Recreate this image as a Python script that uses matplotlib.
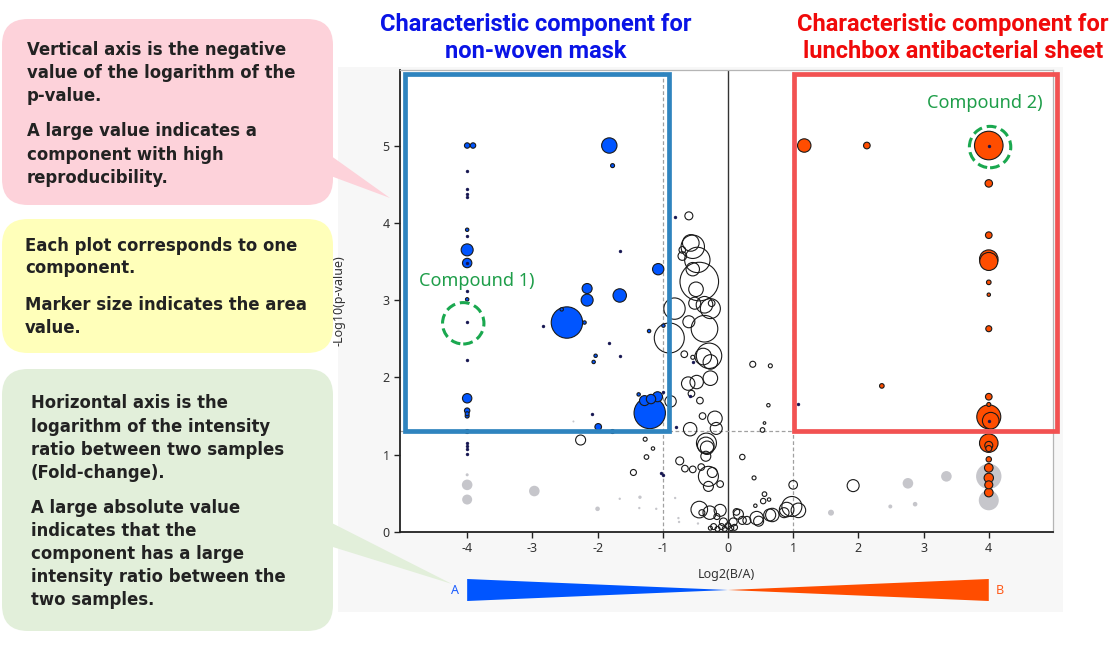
import matplotlib
matplotlib.use("Agg")
import matplotlib.pyplot as plt
from matplotlib.patches import FancyBboxPatch, Polygon, Rectangle
from matplotlib.transforms import blended_transform_factory
import numpy as np

plt.rcParams['axes.unicode_minus'] = False

# ---------------- data ----------------
# significant for A (blue): x = log2(B/A), y = -log10(p), area value
blue_x = [-4.00, -3.91, -4.00, -4.00, -4.00, -4.00, -4.00, -4.00, -4.00, -4.00, -4.00,
          -1.82, -1.77, -1.07, -2.16, -2.16, -1.66, -2.47, -2.20, -1.21, -0.99, -2.03,
          -2.06, -1.20, -1.28, -1.18, -1.08, -1.37, -1.99, -1.77, -2.55]
blue_y = [5.00, 5.00, 3.91, 3.65, 3.48, 3.01, 1.73, 1.57, 1.53, 1.50, 1.30,
          5.00, 4.74, 3.40, 3.15, 3.00, 3.06, 2.71, 2.71, 2.60, 2.67, 2.28,
          2.20, 1.54, 1.70, 1.72, 1.75, 1.78, 1.36, 1.30, 2.88]
blue_area = [7.3, 7.3, 2.9, 36, 22, 2.9, 22, 7.3, 4, 4, 4,
             59, 4, 32, 25, 36, 45, 246, 2.9, 2.9, 2.9, 2.9,
             2.9, 246, 25, 22, 25, 2.9, 11, 4, 2.9]

# significant for B (orange)
orange_x = [1.17, 2.13, 4.00, 4.00, 4.00, 4.00, 4.00, 4.00, 4.00, 4.00, 2.36, 4.00,
            4.00, 4.00, 4.03, 4.00, 4.00, 4.00, 4.00, 4.00, 4.00, 4.00, 4.00]
orange_y = [5.00, 5.00, 5.00, 4.51, 3.84, 3.53, 3.50, 3.23, 3.07, 2.63, 1.89, 1.75,
            1.65, 1.49, 1.44, 1.15, 1.12, 1.08, 0.94, 0.83, 0.70, 0.61, 0.51]
orange_area = [45, 11, 204, 14, 11, 86, 81, 5.3, 2.9, 9, 5.3, 11,
               4, 144, 69, 86, 16, 9, 7.3, 18.5, 22, 16, 18.5]

# not significant, low p (grey)
grey_x = [-4.00, -4.00, -4.00, -2.97, -2.00, -1.66, -1.35, -1.36, -1.10, -0.75, -0.46,
          -2.37, -0.81, -0.76, 4.00, 4.00, 2.76, 3.35, 2.87, 2.49, 1.58]
grey_y = [0.74, 0.61, 0.42, 0.53, 0.30, 0.43, 0.45, 0.31, 0.30, 0.13, 0.11,
          1.43, 0.44, 0.18, 0.72, 0.41, 0.63, 0.72, 0.36, 0.33, 0.25]
grey_area = [2.3, 28, 25, 28, 5.3, 1.4, 2.9, 1.4, 1.4, 1.4, 1.4,
             1.0, 1.4, 1.4, 161, 100, 28, 28, 5.3, 4, 9]

# not significant, small fold change (open circles)
white_x = [-2.26, -1.27, -1.15, -1.25, -1.45, -0.60,
           -0.54, -0.57, -0.70, -0.70, -0.47, -0.54, -0.44, -0.49,
           -0.82, -0.51, -0.36, -0.27, -0.25, -0.60, -0.36, -0.90,
           -0.67, -0.29, -0.27, -0.54, -0.38,
           -0.61, -0.48, -0.27, -0.56, -0.43, -0.88,
           -0.58, -0.39, -0.20, -0.18,
           -0.34, -0.32, -0.33, -0.34, -0.74, -0.66, -0.54, -0.41, -0.30, -0.24, -0.12, -0.30,
           -0.44, -0.28, -0.12, -0.17, -0.40,
           -0.22, -0.16, -0.10, -0.05, 0.00, 0.05, -0.27, 0.10, -0.07, 0.13, 0.08, 0.16,
           0.22, 0.29, 0.44, 0.47, 0.64, 0.68, 0.86, 0.90, 0.98, 1.08, 1.00, 1.92,
           0.56, 0.63, 0.54, 0.42,
           0.22, 0.40, 0.38, 0.65, 0.62, 0.56, 0.53]
white_y = [1.19, 1.20, 1.08, 0.97, 0.77, 4.09,
           3.69, 3.74, 3.65, 3.57, 3.52, 3.40, 3.24, 3.14,
           2.89, 2.96, 2.94, 2.89, 2.96, 2.72, 2.63, 2.51,
           2.30, 2.28, 2.20, 2.26, 2.27,
           1.92, 1.94, 1.99, 1.79, 1.70, 1.69,
           1.33, 1.50, 1.47, 1.34,
           1.12, 1.09, 1.15, 0.98, 0.92, 0.82, 0.81, 0.84, 0.72, 0.77, 0.62, 0.59,
           0.29, 0.25, 0.28, 0.20, 0.25,
           0.07, 0.04, 0.07, 0.04, 0.08, 0.05, 0.05, 0.06, 0.13, 0.26, 0.13, 0.23,
           0.15, 0.15, 0.18, 0.14, 0.22, 0.22, 0.25, 0.29, 0.33, 0.28, 0.61, 0.60,
           0.49, 0.42, 0.40, 0.34,
           0.97, 0.70, 2.17, 2.15, 1.64, 1.41, 1.32]
white_area = [25, 4, 2.9, 5.3, 9, 16,
              137, 69, 11, 18.5, 161, 45, 372, 53,
              114, 36, 69, 100, 11, 36, 177, 225,
              11, 161, 53, 4, 69,
              45, 45, 53, 11, 11, 32,
              45, 11, 53, 36,
              69, 45, 100, 25, 16, 11, 11, 11, 100, 25, 11, 25,
              69, 45, 36, 9, 9,
              9, 6.3, 9, 6.3, 9, 6.3, 4, 9, 16, 11, 16, 25,
              16, 16, 45, 25, 36, 45, 25, 53, 100, 53, 18.5, 36,
              5.3, 2.9, 7.3, 2.9,
              7.3, 4, 9, 4, 2.9, 1.7, 5.3]

# very small components (dark dots)
dot_x = [-4.00, -4.00, -4.00, -4.00, -4.00, -4.00, -4.00, -4.00, -4.00, -4.00, -4.00,
         -4.00, -1.66, -2.84, -1.82, -1.66, -2.08, -0.81, 1.07, -1.00, -0.80, -0.54,
         -1.03, -0.99, 4.00, 4.00, -4.00, -0.58]
dot_y = [4.67, 4.44, 4.37, 4.33, 3.83, 3.12, 2.72, 2.23, 1.15, 1.11, 1.07,
         1.01, 3.64, 2.67, 2.45, 2.28, 1.53, 4.07, 1.66, 0.74, 1.36, 2.20,
         0.76, 1.81, 5.00, 1.44, 3.48, 1.76]

p_threshold = 0.05
fc_threshold = 1.0
compounds = ["Compound 1)", "Compound 2)"]
compound_x = [-4.06, 4.02]
compound_y = [2.70, 4.98]

x_ticks = [-4, -3, -2, -1, 0, 1, 2, 3, 4]
y_ticks = [0, 1, 2, 3, 4, 5]

title_A = ["Characteristic component for", "non-woven mask"]
title_B = ["Characteristic component for", "lunchbox antibacterial sheet"]
note_pink = [["Vertical axis is the negative", "value of the logarithm of the", "p-value."],
             ["A large value indicates a", "component with high", "reproducibility."]]
note_yellow = [["Each plot corresponds to one", "component."],
               ["Marker size indicates the area", "value."]]
note_green = [["Horizontal axis is the", "logarithm of the intensity",
               "ratio between two samples", "(Fold-change)."],
              ["A large absolute value", "indicates that the",
               "component has a large", "intensity ratio between the",
               "two samples."]]

# ---------------- figure ----------------
W, H = 1120, 650
fig = plt.figure(figsize=(W / 100, H / 100), dpi=100)

# background panel
bg = fig.add_axes([0, 0, 1, 1], zorder=0)
bg.set_xlim(0, W); bg.set_ylim(H, 0); bg.axis('off')
bg.add_patch(Rectangle((338, 67), 725, 545, facecolor='#f7f7f7', edgecolor='none'))

# main axes
ax_l, ax_r, ax_t, ax_b = 400, 1053, 70, 532
ax = fig.add_axes([ax_l / W, (H - ax_b) / H, (ax_r - ax_l) / W, (ax_b - ax_t) / H], zorder=1)
ax.set_facecolor('white')
ax.set_xlim(-5.03, 4.985)
ax.set_ylim(0, 5.977)

def s_of(a):
    return np.asarray(a, dtype=float) * 2.0736

ythr = -np.log10(p_threshold)
ax.axvline(0, color='#333333', lw=1.0, zorder=1)
for xv in (-fc_threshold, fc_threshold):
    ax.axvline(xv, color='#a0a0a0', lw=0.9, ls=(0, (3, 2)), zorder=1)
ax.axhline(ythr, color='#a0a0a0', lw=0.9, ls=(0, (3, 2)), zorder=1)

def bubbles(xs, ys, areas, face, edge, lw, z):
    xs, ys, areas = map(np.asarray, (xs, ys, areas))
    order = np.argsort(-areas)
    ax.scatter(xs[order], ys[order], s=s_of(areas[order]), facecolors=face,
               edgecolors=edge, linewidths=lw, zorder=z, clip_on=False)

bubbles(grey_x, grey_y, grey_area, '#c6c6cb', 'none', 0, 2)
bubbles(white_x, white_y, white_area, 'none', '#1a1a1a', 0.8, 3)
bubbles(orange_x, orange_y, orange_area, '#ff4d00', '#1a1a1a', 0.8, 4)
bubbles(blue_x, blue_y, blue_area, '#0055ff', '#1a1a1a', 0.8, 4)
ax.scatter(dot_x, dot_y, s=4.5, facecolors='#141450', edgecolors='#141450',
           linewidths=0.3, zorder=5)

# highlight boxes
ax.add_patch(Rectangle((-4.946, ythr), -0.897 + 4.946, 5.925 - ythr, fill=False,
                       edgecolor='#2f84bf', lw=3.4, zorder=6, clip_on=False))
ax.add_patch(Rectangle((1.01, ythr), 5.05 - 1.01, 5.925 - ythr, fill=False,
                       edgecolor='#f25252', lw=3.4, zorder=6, clip_on=False))

# compound markers
ax.scatter(compound_x, compound_y, s=888, facecolors='none', edgecolors='#1aa84f',
           linewidths=2.2, linestyles=(0, (3.2, 1.6)), zorder=7, clip_on=False)
ax.text(-3.855, 3.25, compounds[0], color='#1f9e4a', fontsize=13, family='Noto Sans',
        ha='center', va='center', zorder=8)
ax.text(3.94, 5.55, compounds[1], color='#1f9e4a', fontsize=13, family='Noto Sans',
        ha='center', va='center', zorder=8)

# axes styling
for sp in ('left', 'bottom'):
    ax.spines[sp].set_color('#222222'); ax.spines[sp].set_linewidth(1.3)
for sp in ('top', 'right'):
    ax.spines[sp].set_color('#b5b5b5'); ax.spines[sp].set_linewidth(0.9)
ax.set_xticks(x_ticks)
ax.set_yticks(y_ticks)
ax.tick_params(axis='both', direction='out', length=4.5, width=1.0, color='#222222',
               labelsize=9, labelcolor='#333333', pad=3)
for lab in ax.get_xticklabels() + ax.get_yticklabels():
    lab.set_family('Noto Sans')
ax.set_xlabel('Log2(B/A)', fontsize=9, family='Noto Sans', color='#333333')
ax.set_ylabel('-Log10(p-value)', fontsize=9, family='Noto Sans', color='#333333')
ax.xaxis.set_label_coords(0.5, -0.078)
ax.yaxis.set_label_coords(-0.084, 0.5)

# overlay for annotations (pixel coordinates)
ov = fig.add_axes([0, 0, 1, 1], zorder=3)
ov.set_xlim(0, W); ov.set_ylim(H, 0); ov.axis('off')

# A-B wedge (x from data, y in pixels)
tr = blended_transform_factory(ax.transData, ov.transData)
ov.add_patch(Polygon([(-4, 579), (-4, 601), (0, 590)], closed=True, facecolor='#0055ff',
                     edgecolor='none', transform=tr, clip_on=False))
ov.add_patch(Polygon([(4, 579), (4, 601), (0, 590)], closed=True, facecolor='#ff4d00',
                     edgecolor='none', transform=tr, clip_on=False))
ov.text(-4.18, 591, 'A', transform=tr, color='#1a5cff', fontsize=9, family='Noto Sans',
        ha='center', va='center')
ov.text(4.17, 591, 'B', transform=tr, color='#ff5a1a', fontsize=9, family='Noto Sans',
        ha='center', va='center')

# titles
tfam = ['Roboto', 'DejaVu Sans']
for ln, yb in zip(title_A, (31, 58)):
    ov.text(536, yb, ln, color='#0a14e6', fontsize=17, fontweight='bold', family=tfam,
            ha='center', va='baseline')
for ln, yb in zip(title_B, (31, 58)):
    ov.text(953, yb, ln, color='#f00a0a', fontsize=17, fontweight='bold', family=tfam,
            ha='center', va='baseline')

# callouts
def callout(y0, y1, color, pointer=None):
    ov.add_patch(FancyBboxPatch((2, y0), 331, y1 - y0,
                                boxstyle='round,pad=0,rounding_size=26',
                                facecolor=color, edgecolor='none', zorder=1))
    if pointer is not None:
        ov.add_patch(Polygon(pointer, closed=True, facecolor=color, edgecolor='none', zorder=1))

callout(19, 205, '#fdd2da', [(320, 148), (320, 172), (390, 198)])
callout(219, 353, '#ffffba')
callout(369, 631, '#e2efda', [(320, 517), (320, 543), (452, 584)])

def write(paragraphs, x, baselines):
    k = 0
    for para in paragraphs:
        for ln in para:
            ov.text(x, baselines[k], ln, fontsize=11.9, fontweight='bold', family='DejaVu Sans',
                    color='#222222', ha='left', va='baseline', zorder=2)
            k += 1

write(note_pink, 27, [55, 78, 101, 136, 160, 183])
write(note_yellow, 25, [251, 273, 310, 333])
write(note_green, 31, [408, 432, 455, 478, 513, 536, 559, 582, 605])

fig.savefig('out.png', dpi=100)
